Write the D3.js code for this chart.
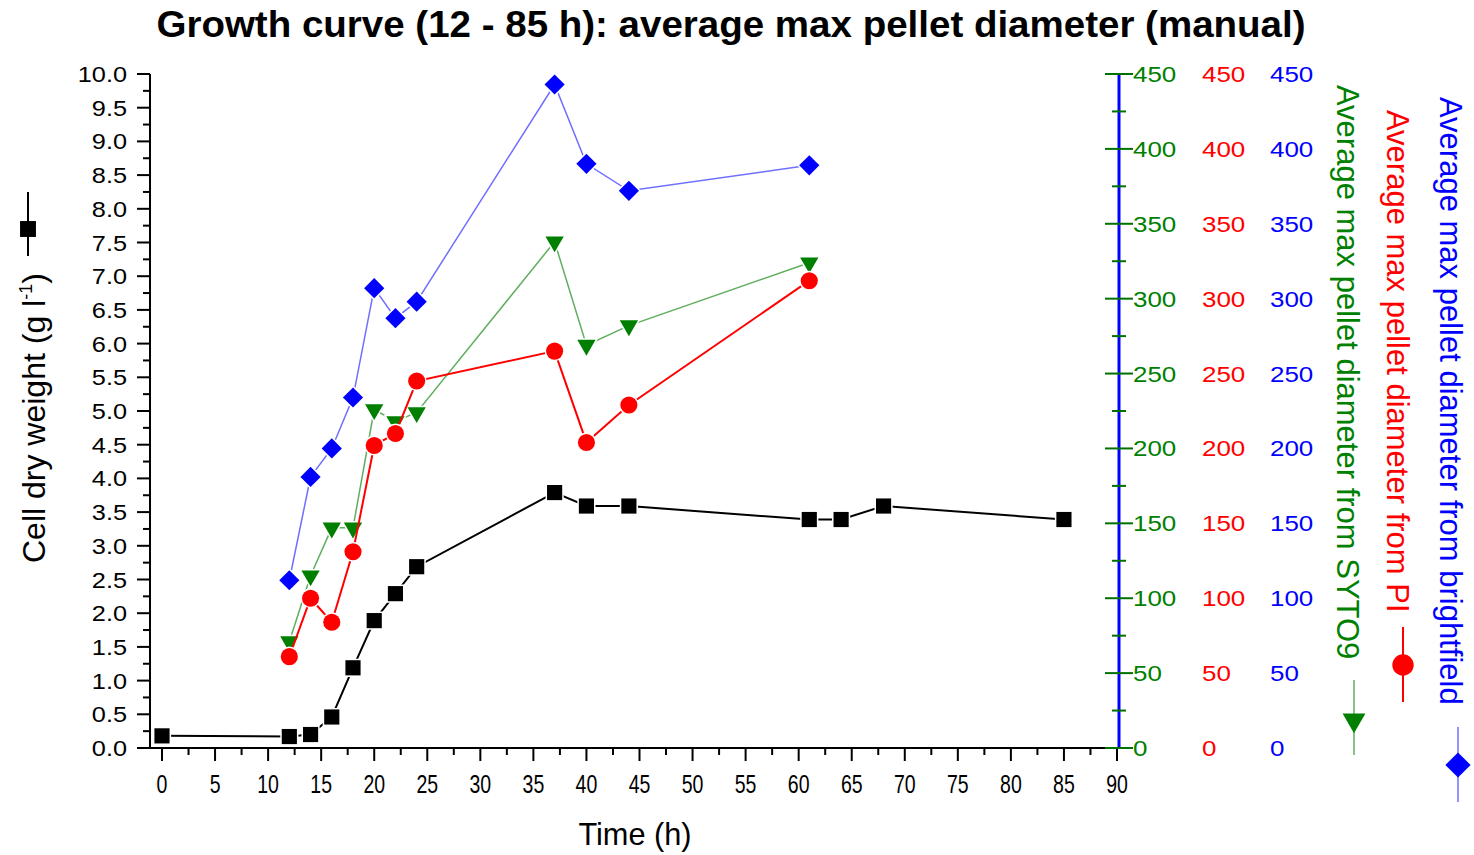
<!DOCTYPE html>
<html lang='en'>
<head>
<meta charset='UTF-8'>
<title>Growth curve</title>
<script src='https://d3js.org/d3.v7.min.js'></script>
<style>
  body { margin: 0; background: #fff; }
  text { font-family: 'Liberation Sans', Arial, sans-serif; }
</style>
</head>
<body>
<svg id='chart' width='1474' height='855'></svg>
<script>
// time points (h)
const timeCdw = [0, 12, 14, 16, 18, 20, 22, 24, 37, 40, 44, 61, 64, 68, 85]
const cdw = [0.18, 0.17, 0.2, 0.46, 1.19, 1.89, 2.29, 2.69, 3.79, 3.59, 3.59, 3.39, 3.39, 3.59, 3.39]

const timeDiam = [12, 14, 16, 18, 20, 22, 24, 37, 40, 44, 61]
const diamBrightfield = [112, 181, 200, 234, 307, 287, 298, 443, 390, 372, 389]
const diamSyto9 = [71, 115, 147, 147, 226, 218, 224, 338, 269, 282, 324]
const diamPI = [61, 100, 84, 131, 202, 210, 245, 265, 204, 229, 312]

const xTicks = d3.range(0, 91, 5)
const yLeftTicks = d3.range(0, 10.01, 0.5)
const yRightTicks = d3.range(0, 451, 50)

const svg = d3.select('#chart')

const x = d3.scaleLinear().domain([0, 90]).range([162, 1117])
const yL = d3.scaleLinear().domain([0, 10]).range([748, 74])
const yR = d3.scaleLinear().domain([0, 450]).range([748, 74])

const axisX = 150, axisR = 1119, axisB = 748

// title
svg.append('text')
  .attr('transform', 'translate(731,37) scale(1.07,1)')
  .attr('text-anchor', 'middle')
  .style('font-size', '36px').style('font-weight', 'bold')
  .text('Growth curve (12 - 85 h): average max pellet diameter (manual)')

// bottom axis
svg.append('line').attr('x1', axisX).attr('x2', axisR).attr('y1', axisB).attr('y2', axisB)
  .attr('stroke', '#000').attr('stroke-width', 2)
d3.range(0, 90.01, 2.5).forEach(v => {
  const major = v % 5 === 0
  svg.append('line').attr('x1', x(v)).attr('x2', x(v))
    .attr('y1', axisB).attr('y2', axisB + (major ? 13 : 7))
    .attr('stroke', '#000').attr('stroke-width', 2)
})
xTicks.forEach(v => {
  svg.append('text')
    .attr('transform', `translate(${x(v)},${793}) scale(0.78,1)`)
    .attr('text-anchor', 'middle')
    .style('font-size', '25px')
    .text(v)
})
svg.append('text')
  .attr('transform', `translate(635,845) scale(0.96,1)`)
  .attr('text-anchor', 'middle')
  .style('font-size', '32px')
  .text('Time (h)')

// left axis
svg.append('line').attr('x1', axisX).attr('x2', axisX).attr('y1', yL(10)).attr('y2', axisB + 1)
  .attr('stroke', '#000').attr('stroke-width', 2)
d3.range(0, 10.01, 0.25).forEach(v => {
  const major = Math.abs(v * 2 - Math.round(v * 2)) < 1e-6
  svg.append('line').attr('x1', axisX).attr('x2', axisX - (major ? 13 : 7))
    .attr('y1', yL(v)).attr('y2', yL(v))
    .attr('stroke', '#000').attr('stroke-width', 2)
})
yLeftTicks.forEach(v => {
  svg.append('text')
    .attr('transform', `translate(127,${yL(v) + 8}) scale(1.15,1)`)
    .attr('text-anchor', 'end')
    .style('font-size', '22px')
    .text(v.toFixed(1))
})

// left axis title
svg.append('text')
  .attr('transform', 'translate(45,563) rotate(-90)')
  .attr('text-anchor', 'start')
  .style('font-size', '32px')
  .html('Cell dry weight (g l<tspan dy="-13" font-size="18px">-1</tspan><tspan dy="13">)</tspan>')

// right axis
svg.append('line').attr('x1', axisR).attr('x2', axisR).attr('y1', yR(450)).attr('y2', axisB + 1)
  .attr('stroke', '#0000ff').attr('stroke-width', 3)
d3.range(0, 450.1, 25).forEach(v => {
  const major = v % 50 === 0
  svg.append('line').attr('x1', axisR - (major ? 14 : 7)).attr('x2', axisR + (major ? 14 : 7))
    .attr('y1', yR(v)).attr('y2', yR(v))
    .attr('stroke', '#007000').attr('stroke-width', 2)
})
const rightCols = [
  { x: 1133, color: '#008000' },
  { x: 1202, color: '#ff0000' },
  { x: 1270, color: '#0000ff' }
]
rightCols.forEach(c => {
  yRightTicks.forEach(v => {
    svg.append('text')
      .attr('transform', `translate(${c.x},${yR(v) + 8}) scale(1.18,1)`)
      .attr('fill', c.color)
      .style('font-size', '22px')
      .text(v)
  })
})

// symbols
const sq = d3.symbol().type(d3.symbolSquare).size(230)
const circ = d3.symbol().type(d3.symbolCircle).size(230)
const diam = d3.symbol().type(d3.symbolDiamond2).size(260)
const tri = d3.symbol().type(d3.symbolTriangle2).size(240)

const series = [
  { t: timeDiam, v: diamBrightfield, y: yR, marker: diam, rot: 0, fill: '#0000ff', line: '#6f6fff', w: 1.5 },
  { t: timeDiam, v: diamSyto9, y: yR, marker: tri, rot: 180, fill: '#007f00', line: '#5fae5f', w: 1.5 },
  { t: timeDiam, v: diamPI, y: yR, marker: circ, rot: 0, fill: '#ff0000', line: '#ff0000', w: 2 },
  { t: timeCdw, v: cdw, y: yL, marker: sq, rot: 0, fill: '#000', line: '#000', w: 2 }
]

series.forEach(s => {
  const pts = s.t.map((t, i) => [t, s.v[i]])
  const line = d3.line().x(d => x(d[0])).y(d => s.y(d[1]))
  svg.append('path').datum(pts)
    .attr('d', line)
    .attr('fill', 'none')
    .attr('stroke', s.line)
    .attr('stroke-width', s.w)
  svg.append('g').selectAll('path')
    .data(pts).enter()
    .append('path')
      .attr('d', s.marker)
      .attr('transform', d => `translate(${x(d[0])},${s.y(d[1])}) rotate(${s.rot})`)
      .attr('fill', s.fill)
      .attr('stroke', '#fff')
      .attr('stroke-width', 3)
      .attr('paint-order', 'stroke')
})

// vertical legend keys
function keyMark(cx, y0, y1, ym, s, scale) {
  svg.append('line').attr('x1', cx).attr('x2', cx).attr('y1', y0).attr('y2', y1)
    .attr('stroke', s.line).attr('stroke-width', s.w)
  svg.append('path').attr('d', s.marker)
    .attr('transform', `translate(${cx},${ym}) rotate(${s.rot}) scale(${scale})`)
    .attr('fill', s.fill)
}
keyMark(28, 192, 256, 229, series[3], 1.05)

// right rotated titles
const rightTitles = [
  { x: 1337, y: 85, text: 'Average max pellet diameter from SYTO9', color: '#008000', key: [680, 755, 720], s: series[1], kx: 1354 },
  { x: 1387, y: 110, text: 'Average max pellet diameter from PI', color: '#ff0000', key: [627, 702, 665], s: series[2], kx: 1403 },
  { x: 1440, y: 97, text: 'Average max pellet diameter from brightfield', color: '#0000ff', key: [727, 802, 765], s: series[0], kx: 1458 }
]
rightTitles.forEach(r => {
  svg.append('text')
    .attr('transform', `translate(${r.x},${r.y}) rotate(90)`)
    .attr('fill', r.color)
    .style('font-size', '31px')
    .text(r.text)
  keyMark(r.kx, r.key[0], r.key[1], r.key[2], r.s, 1.25)
})
</script>
</body>
</html>
